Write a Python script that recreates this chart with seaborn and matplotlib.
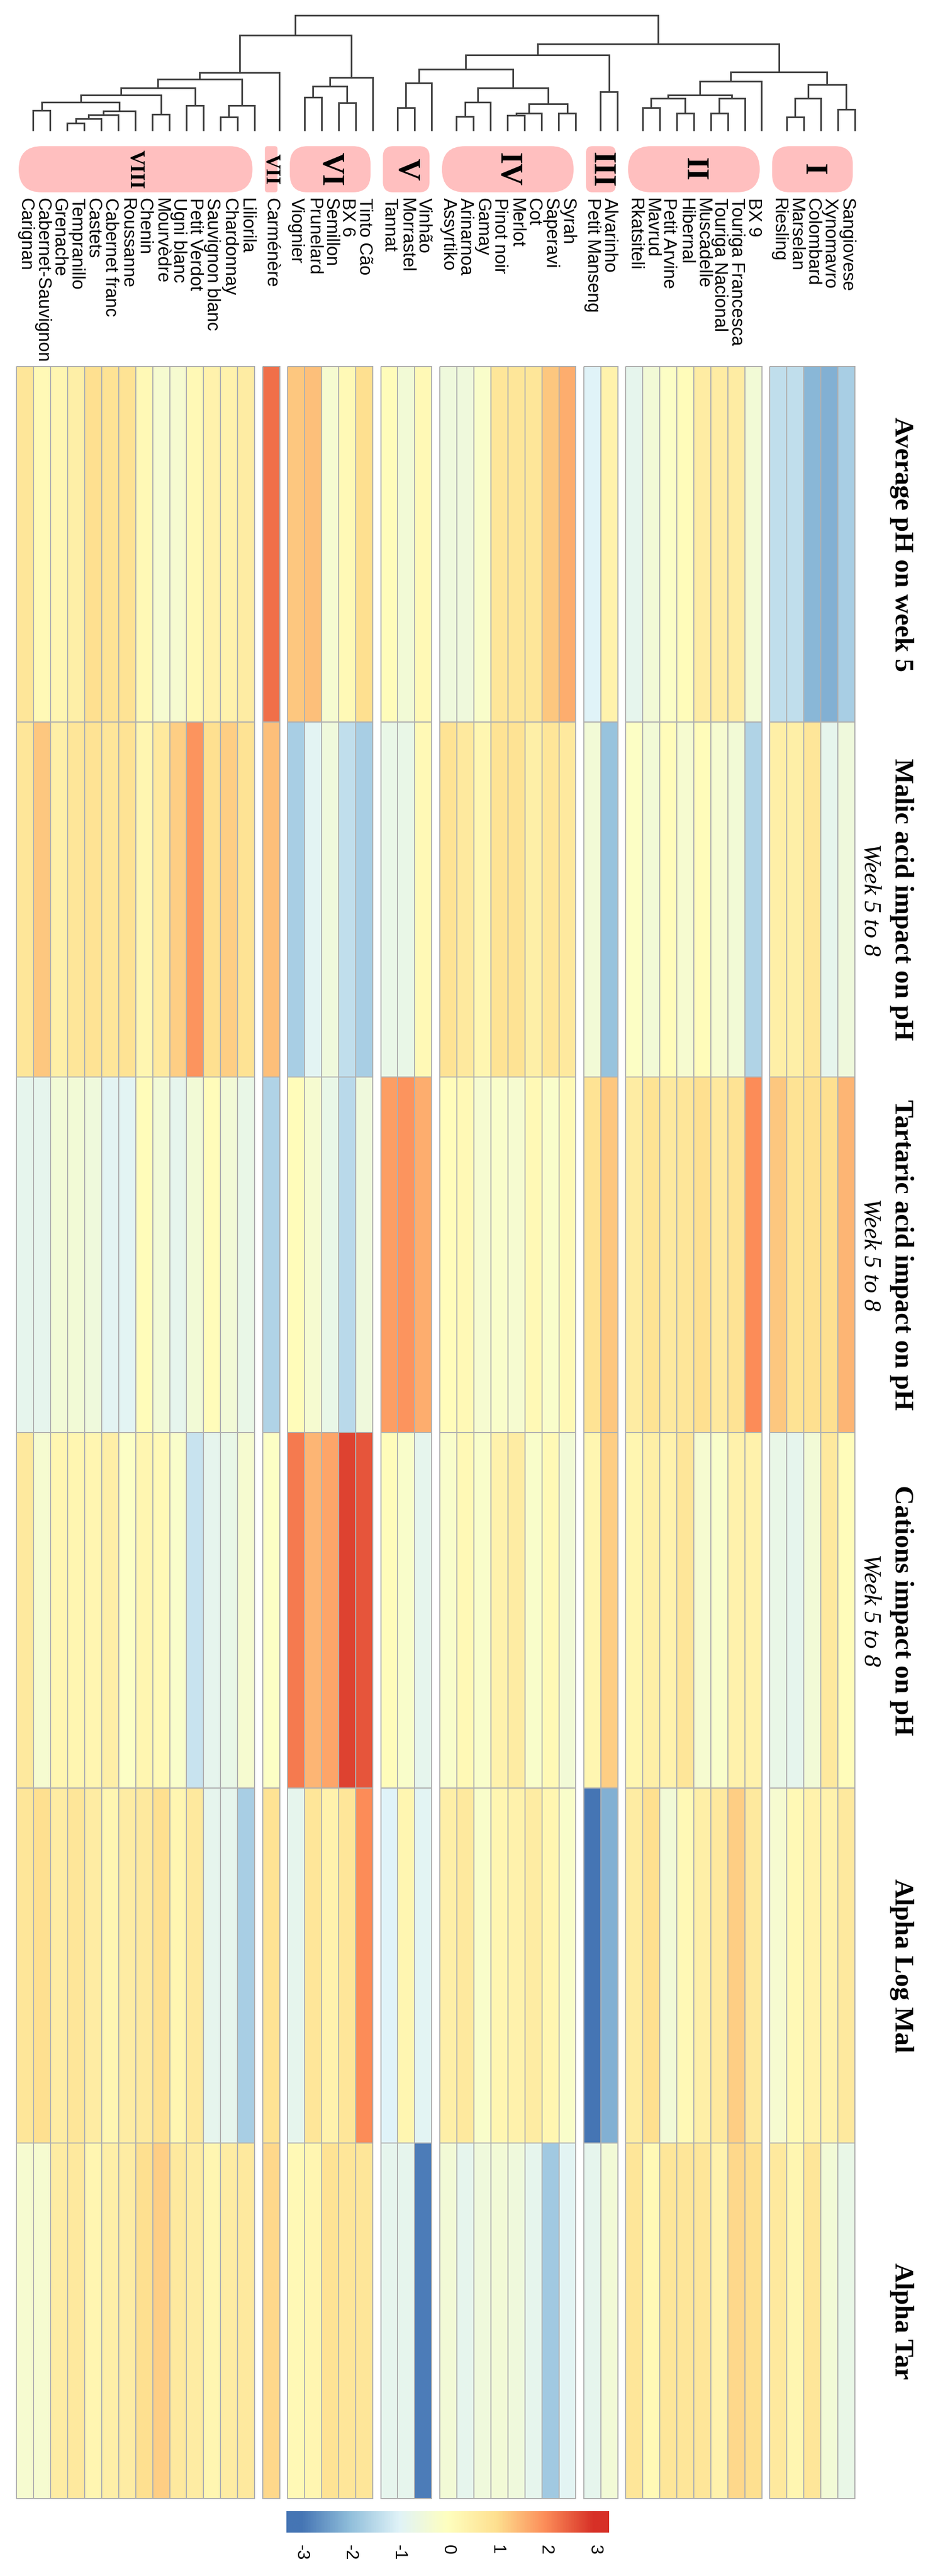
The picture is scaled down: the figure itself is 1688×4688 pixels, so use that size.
import numpy as np
import pandas as pd
import matplotlib
matplotlib.use("Agg")
import matplotlib.pyplot as plt
import seaborn as sns
from matplotlib.colors import LinearSegmentedColormap, Normalize
from matplotlib.patches import FancyBboxPatch

# ---- data (left to right as drawn) ----
varieties = [
    "Carignan", "Cabernet-Sauvignon", "Grenache", "Tempranillo", "Castets",
    "Cabernet franc", "Roussanne", "Chenin", "Mourvèdre", "Ugni blanc",
    "Petit Verdot", "Sauvignon blanc", "Chardonnay", "Liliorila",
    "Carménère",
    "Viognier", "Prunelard", "Semillon", "BX 6", "Tinto Cão",
    "Tannat", "Morrastel", "Vinhão",
    "Assyrtiko", "Arinarnoa", "Gamay", "Pinot noir", "Merlot", "Cot", "Saperavi", "Syrah",
    "Petit Manseng", "Alvarinho",
    "Rkatsiteli", "Mavrud", "Petit Arvine", "Hibernal", "Muscadelle",
    "Touriga Nacional", "Touriga Francesca", "BX 9",
    "Riesling", "Marselan", "Colombard", "Xynomavro", "Sangiovese",
]
clusters = (["VIII"] * 14 + ["VII"] + ["VI"] * 5 + ["V"] * 3 + ["IV"] * 8
            + ["III"] * 2 + ["II"] * 8 + ["I"] * 5)
cluster_order = ["VIII", "VII", "VI", "V", "IV", "III", "II", "I"]

avg_ph = [0.8, 0.2, 0.3, 0.5, 1.0, 0.9, 0.9, 0.2, -0.3, -0.3, 0.2, 0.4, 0.4, 0.6,
          2.3,
          1.3, 1.4, -0.3, 0.2, 1.0,
          0.1, -0.4, 0.2,
          -0.5, -0.5, -0.2, 0.8, 0.8, 0.8, 1.3, 1.6,
          -1.0, 0.4,
          -0.8, -0.4, -0.1, 0.1, 0.6, 0.6, 0.6, -0.4,
          -1.4, -1.4, -2.1, -2.2, -1.7]
malic = [0.8, 1.3, 0.5, 0.8, 0.9, 0.8, 0.9, 0.3, 0.7, 1.2, 1.9, 1.0, 1.2, 0.9,
         1.4,
         -1.7, -0.9, -0.5, -1.4, -1.7,
         -0.7, -0.7, 0.2,
         0.9, 0.7, 0.3, 0.9, 0.9, 0.5, 0.8, 0.7,
         -0.4, -1.9,
         -0.1, -0.4, 0.1, -0.3, 0.1, -0.3, -0.4, -1.6,
         0.5, 0.5, 0.8, -0.8, -0.5]
tartaric = [-0.8, -0.8, -0.4, -0.4, -0.5, -0.9, -0.9, 0.1, -0.4, -0.8, -0.4, 0.1, -0.4, -0.7,
            -1.6,
            0.1, -0.3, -0.7, -1.5, -0.5,
            1.8, 1.9, 1.6,
            0.1, 0.2, -0.3, -0.2, -0.3, 0.2, -0.2, 0.2,
            0.9, 1.3,
            0.6, 0.9, 0.7, 0.8, 1.0, 0.7, 0.9, 2.0,
            1.3, 0.9, 1.0, 1.0, 1.5]
cations = [0.7, -0.3, 0.3, 0.3, 0.3, 0.5, -0.1, 0.3, 0.2, -0.2, -1.3, -0.8, -0.7, -0.3,
           -0.1,
           2.2, 1.5, 1.7, 2.8, 2.6,
           0.1, -0.2, -0.8,
           -0.2, 0.2, -0.2, 0.4, 0.6, -0.2, 0.2, -0.4,
           0.3, 1.2,
           0.3, 0.5, 0.4, 0.8, -0.3, -0.2, 0.4, 0.4,
           -0.7, -0.8, -0.4, 0.7, 0.1]
alpha_log_mal = [0.8, 1.0, 0.6, 0.8, 0.6, 0.3, 0.6, 0.7, 1.0, 0.3, 0.7, -0.8, -0.8, -1.7,
                 0.9,
                 -0.8, 0.8, 0.4, 0.8, 2.0,
                 -1.0, 0.3, -0.9,
                 0.5, 0.7, -0.2, 0.3, 0.4, 0.6, 0.3, -0.2,
                 -3.0, -2.2,
                 0.6, 1.0, -0.4, 0.2, 0.5, 0.7, 1.2, 0.7,
                 -0.3, 0.2, 0.4, 0.4, 0.7]
alpha_tar = [-0.3, -0.3, 0.6, 0.7, 0.3, 0.5, 0.6, 1.0, 1.2, 0.7, 0.6, 0.3, 0.6, 0.7,
             1.1,
             0.2, 0.3, 0.9, 0.8, 0.8,
             -0.8, -0.8, -2.9,
             -0.4, -0.8, -0.5, -0.4, -0.5, -0.8, -1.8, -0.9,
             -0.8, -0.4,
             0.8, 0.2, 0.8, 0.8, 0.8, 0.4, 1.1, 1.0,
             0.7, 0.3, 0.8, -0.4, -0.7]

metric_titles = ["Average pH on week 5", "Malic acid impact on pH",
                 "Tartaric acid impact on pH", "Cations impact on pH",
                 "Alpha Log Mal", "Alpha Tar"]
metric_subtitles = ["", "Week 5 to 8", "Week 5 to 8", "Week 5 to 8", "", ""]

# dendrogram merges: (node, left, right, height)
merges = [
    ("A", "Carignan", "Cabernet-Sauvignon", 113),
    ("B", "Grenache", "Tempranillo", 42),
    ("C", "B", "Castets", 68),
    ("D", "C", "Cabernet franc", 88),
    ("E", "D", "Roussanne", 108),
    ("F", "A", "E", 157),
    ("G", "Chenin", "Mourvèdre", 90),
    ("H", "F", "G", 198),
    ("I", "Ugni blanc", "Petit Verdot", 140),
    ("J", "H", "I", 237),
    ("K", "Sauvignon blanc", "Chardonnay", 75),
    ("L", "K", "Liliorila", 138),
    ("M", "J", "L", 285),
    ("N", "M", "Carménère", 322),
    ("O", "Viognier", "Prunelard", 185),
    ("P", "Semillon", "BX 6", 155),
    ("Q", "O", "P", 245),
    ("R", "Q", "Tinto Cão", 293),
    ("S", "N", "R", 527),
    ("T", "Tannat", "Morrastel", 127),
    ("U", "T", "Vinhão", 263),
    ("a", "Assyrtiko", "Arinarnoa", 80),
    ("b", "a", "Gamay", 158),
    ("c", "Pinot noir", "Merlot", 85),
    ("d", "c", "Cot", 98),
    ("e", "Saperavi", "Syrah", 98),
    ("f", "d", "e", 147),
    ("g", "b", "f", 235),
    ("h", "U", "g", 340),
    ("iii", "Petit Manseng", "Alvarinho", 215),
    ("i", "h", "iii", 417),
    ("j", "Rkatsiteli", "Mavrud", 127),
    ("k", "Petit Arvine", "Hibernal", 98),
    ("l", "j", "k", 177),
    ("m", "Muscadelle", "Touriga Nacional", 98),
    ("n", "m", "Touriga Francesca", 177),
    ("o", "l", "n", 197),
    ("p", "o", "BX 9", 273),
    ("q", "Riesling", "Marselan", 77),
    ("r", "q", "Colombard", 177),
    ("s", "Xynomavro", "Sangiovese", 118),
    ("t", "r", "s", 253),
    ("u", "p", "t", 323),
    ("v", "i", "u", 477),
    ("root", "S", "v", 635),
]

# ---- colours ----
cmap = LinearSegmentedColormap.from_list(
    "rdylbu7", ["#4575b4", "#91bfdb", "#e0f3f8", "#ffffbf", "#fee090", "#fc8d59", "#d73027"])
pill_color = "#ffbfbf"
grid_color = "#b0b0b0"

values = np.array([avg_ph, malic, tartaric, cations, alpha_log_mal, alpha_tar])

# ---- layout (pixels) ----
W, H = 1688, 4688
heat_top, heat_bot = 667, 4547
heat_left = 30
cell_w = 30.95
gap = 14.5

fig = plt.figure(figsize=(W / 100, H / 100), dpi=100)
fig.patch.set_facecolor("white")


def col_left(i):
    return heat_left + i * cell_w + cluster_order.index(clusters[i]) * gap


def px_rect(x0, y0, x1, y1):
    return [x0 / W, 1 - y1 / H, (x1 - x0) / W, (y1 - y0) / H]


ax = fig.add_axes([0, 0, 1, 1])
ax.set_xlim(0, W)
ax.set_ylim(H, 0)
ax.axis("off")

# heatmap, one block per cluster
for cl in cluster_order:
    idx = [i for i, c in enumerate(clusters) if c == cl]
    block = pd.DataFrame(values[:, idx], index=metric_titles,
                         columns=[varieties[i] for i in idx])
    x0 = col_left(idx[0])
    x1 = col_left(idx[-1]) + cell_w
    hax = fig.add_axes(px_rect(x0, heat_top, x1, heat_bot))
    sns.heatmap(block, ax=hax, cmap=cmap, vmin=-3, vmax=3, cbar=False,
                linewidths=1.3, linecolor=grid_color,
                xticklabels=False, yticklabels=False)
    hax.collections[0].set_clip_on(False)
    hax.set_xlabel("")
    hax.set_ylabel("")

# dendrogram
leaf_shift = 15
dend_base, dend_top = 238, 28
hmax = merges[-1][3]


def hy(h):
    return dend_base - h / hmax * (dend_base - dend_top)


node = {v: (col_left(i) + cell_w / 2 + leaf_shift, 0) for i, v in enumerate(varieties)}
for name, left, right, h in merges:
    xl, hl = node[left]
    xr, hr = node[right]
    ax.plot([xl, xl, xr, xr], [hy(hl), hy(h), hy(h), hy(hr)],
            color="#404040", lw=2.2, solid_joinstyle="miter", solid_capstyle="butt")
    node[name] = ((xl + xr) / 2, h)

# cluster pills
pill_top, pill_bot = 266, 350
for cl in cluster_order:
    idx = [i for i, c in enumerate(clusters) if c == cl]
    x0 = col_left(idx[0]) + 4
    x1 = col_left(idx[-1]) + cell_w - 4
    r = min(0.22 * (x1 - x0), 0.5 * (pill_bot - pill_top))
    ax.add_patch(FancyBboxPatch((x0, pill_top), x1 - x0, pill_bot - pill_top,
                                boxstyle=f"round,pad=0,rounding_size={r}",
                                fc=pill_color, ec="none"))
    fs = 27 if cl in ("VII", "VIII") else 40
    ax.text((x0 + x1) / 2, (pill_top + pill_bot) / 2, cl, rotation=-90,
            ha="center", va="center", family="Liberation Serif",
            weight="bold", fontsize=fs)

# variety labels
for i, v in enumerate(varieties):
    ax.text(col_left(i) + cell_w / 2, 360, v, rotation=-90, rotation_mode="anchor",
            ha="left", va="center", family="Liberation Sans", fontsize=23.5)

# metric titles
block_h = (heat_bot - heat_top) / len(metric_titles)
for k, (t, s) in enumerate(zip(metric_titles, metric_subtitles)):
    yc = heat_top + (k + 0.5) * block_h
    ax.text(1640, yc, t, rotation=-90, ha="center", va="center",
            family="Liberation Serif", weight="bold", fontsize=35)
    if s:
        ax.text(1583, yc, s, rotation=-90, ha="center", va="center",
                family="Liberation Serif", style="italic", fontsize=32)

# colour bar
cax = fig.add_axes(px_rect(521, 4570, 1108, 4609))
grad = np.linspace(-3.3, 3.3, 400)
cax.imshow(grad[None, :], cmap=cmap, norm=Normalize(-3, 3), aspect="auto",
           extent=[-3.3, 3.3, 0, 1])
cax.set_xticks(range(-3, 4))
cax.set_xticklabels([str(t) for t in range(-3, 4)], rotation=-90,
                    family="Liberation Sans", fontsize=23)
cax.tick_params(axis="x", length=0, pad=16)
cax.set_yticks([])
for sp in cax.spines.values():
    sp.set_visible(False)

fig.savefig("out.png", dpi=100, facecolor="white")
